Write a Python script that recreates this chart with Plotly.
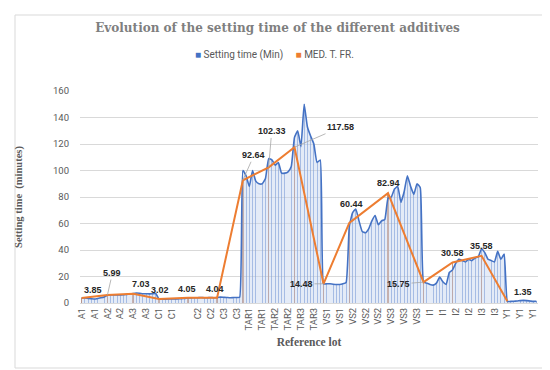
import plotly.graph_objects as go

# ---------------- data ----------------
groups = ["A1", "A2", "A3", "C1", "", "C2", "C3", "TAR1", "TAR2", "TAR3",
          "VS1", "VS2", "VS3", "I1", "I2", "I3", "Y1"]
group_sizes = [8, 8, 8, 8, 1, 9, 8, 8, 8, 9, 8, 12, 11, 9, 9, 8, 10]
medians = [3.85, 5.99, 7.03, 3.02, None, 4.05, 4.04, 92.64, 102.33, 117.58,
           14.48, 60.44, 82.94, 15.75, 30.58, 35.58, 1.35]

setting_time = [
    # A1
    4.0, 3.8, 3.5, 3.2, 3.0, 3.4, 3.9, 4.6,
    # A2
    5.8, 6.0, 6.0, 6.1, 6.0, 6.2, 6.5, 6.8,
    # A3
    7.2, 7.5, 7.3, 7.0, 7.0, 6.9, 7.0, 7.2,
    # C1
    3.0, 3.0, 2.9, 3.0, 3.1, 3.0, 3.2, 3.3,
    # blank
    3.5,
    # C2
    3.8, 3.9, 4.0, 4.0, 4.1, 4.0, 4.0, 4.1, 4.0,
    # C3
    4.2, 4.4, 4.3, 4.2, 4.0, 4.1, 4.2, 4.3,
    # TAR1
    100, 96, 88, 100, 92, 90, 90, 94,
    # TAR2
    109, 108, 104, 106, 98, 98, 99, 103,
    # TAR3
    125, 130, 118, 150, 133, 126, 120, 106, 108,
    # VS1
    14.5, 14.5, 14.5, 14.2, 14.0, 14.0, 14.5, 15.5,
    # VS2
    58, 68, 71, 62, 54, 53, 56, 62, 66, 59, 62, 63,
    # VS3
    79, 80, 86, 88, 76, 84, 96, 88, 82, 90, 87,
    # I1
    16, 15, 14, 13.5, 15, 19.5, 16, 14, 23,
    # I2
    25, 30, 33, 32, 31, 33, 32, 34, 35,
    # I3
    41, 38, 33, 32, 31, 39, 33, 37,
    # Y1
    1.2, 1.2, 1.3, 1.5, 1.8, 2.0, 1.8, 1.5, 1.2, 1.3,
]

series_names = ["Setting time (Min)", "MED. T. FR."]
title_text = "Evolution of the setting time of the different additives"
x_title = "Reference lot"
y_title = "Setting time  (minutes)"
label_step = 4

# ---------------- derived ----------------
cats = []
starts = []
for g, n in zip(groups, group_sizes):
    starts.append(len(cats))
    cats += [g] * n
N = len(cats)
xs = list(range(N))
med_x = [s for s, m in zip(starts, medians) if m is not None]
med_y = [m for m in medians if m is not None]
tickvals = list(range(0, N, label_step))
ticktext = [cats[i] for i in tickvals]

# label offsets (screen px) and whether a leader line is drawn
label_offsets = [(11, -8, False), (5, -22, True), (8, -10, False), (1, -9, False),
                 (-1, -9, False), (-2, -9, False), (11, -25, True), (3, -36, True),
                 (46, -20, True), (-22, 0, True), (2, -19, False), (0, -10, False),
                 (-25, 2, True), (0, -9, False), (0, -10, False), (16, -9, False)]

BLUE = "#4472C4"
ORANGE = "#ED7D31"
GRAY = "#595959"

fig = go.Figure()
# drop lines of the blue series
fig.add_trace(go.Bar(x=xs, y=setting_time, width=0.28, name=series_names[0],
                     showlegend=False,
                     marker=dict(color="rgba(68,114,196,0.6)", line=dict(width=0))))
# drop lines of the orange series
fig.add_trace(go.Bar(x=med_x, y=med_y, width=0.45, name=series_names[1],
                     showlegend=False,
                     marker=dict(color="rgba(190,130,100,0.85)", line=dict(width=0))))
# blue line + light fill
fig.add_trace(go.Scatter(x=xs, y=setting_time, mode="lines", name=series_names[0],
                         showlegend=False,
                         line=dict(color=BLUE, width=1.6, shape="spline", smoothing=0.4),
                         fill="tozeroy", fillcolor="rgba(196,211,238,0.45)"))
# orange median line
fig.add_trace(go.Scatter(x=med_x, y=med_y, mode="lines", name=series_names[1],
                         showlegend=False, line=dict(color=ORANGE, width=2)))

annotations = []
for xv, yv, (dx, dy, arrow) in zip(med_x, med_y, label_offsets):
    txt = f"<b>{yv:.2f}</b>"
    font = dict(family="Liberation Sans", size=9, color="#262626")
    if arrow:
        annotations.append(dict(x=xv, y=yv, xref="x", yref="y", text=txt,
                                showarrow=True, ax=dx, ay=dy, arrowhead=0,
                                arrowwidth=0.8, arrowcolor="#a6a6a6", standoff=0,
                                font=font))
    else:
        annotations.append(dict(x=xv, y=yv, xref="x", yref="y", text=txt,
                                showarrow=False, xshift=dx, yshift=-dy, font=font))

# legend drawn as text with coloured squares
legend_text = (f"<span style='color:{BLUE}'>■</span> {series_names[0]}"
               f"&nbsp;&nbsp;&nbsp;&nbsp;&nbsp;<span style='color:{ORANGE}'>■</span> {series_names[1]}")
annotations.append(dict(xref="paper", yref="paper", x=(266 - 72) / 458,
                        y=(295 - 47) / 212, xanchor="center", yanchor="middle",
                        showarrow=False, text=legend_text,
                        font=dict(family="Roboto", size=10, color=GRAY)))

fig.update_layout(
    width=550, height=370,
    margin=dict(l=72, r=20, t=83, b=75),
    paper_bgcolor="white", plot_bgcolor="white",
    barmode="overlay", bargap=0, showlegend=False,
    title=dict(text=f"<b>{title_text}</b>", x=0.49, xanchor="center",
               y=1 - 20 / 370, yanchor="middle", yref="container",
               font=dict(family="DejaVu Serif", size=12, color="#7f7f7f")),
    xaxis=dict(range=[-0.5, N - 0.5], tickmode="array", tickvals=tickvals,
               ticktext=ticktext, tickangle=-90, showgrid=False, zeroline=False,
               showline=True, linecolor="#d9d9d9", ticks="", automargin=False,
               tickfont=dict(family="Roboto", size=9.5, color=GRAY),
               title=dict(text=f"<b>{x_title}</b>", standoff=8,
                          font=dict(family="Liberation Serif", size=11.5, color=GRAY))),
    yaxis=dict(range=[0, 160], dtick=20, showgrid=True, gridcolor="#d9d9d9",
               zeroline=False, showline=False, ticks="", ticklabelstandoff=10,
               automargin=False,
               tickfont=dict(family="Roboto", size=9.5, color=GRAY),
               title=dict(text=f"<b>{y_title}</b>", standoff=28,
                          font=dict(family="Liberation Serif", size=10.5, color=GRAY))),
    annotations=annotations,
    shapes=[dict(type="rect", xref="paper", yref="paper",
                 x0=(7 - 72) / 458, x1=(543 - 72) / 458,
                 y0=(295 - 360) / 212, y1=(295 - 7) / 212,
                 line=dict(color="#d9d9d9", width=1), layer="below")],
)

fig.write_html("out.html")
